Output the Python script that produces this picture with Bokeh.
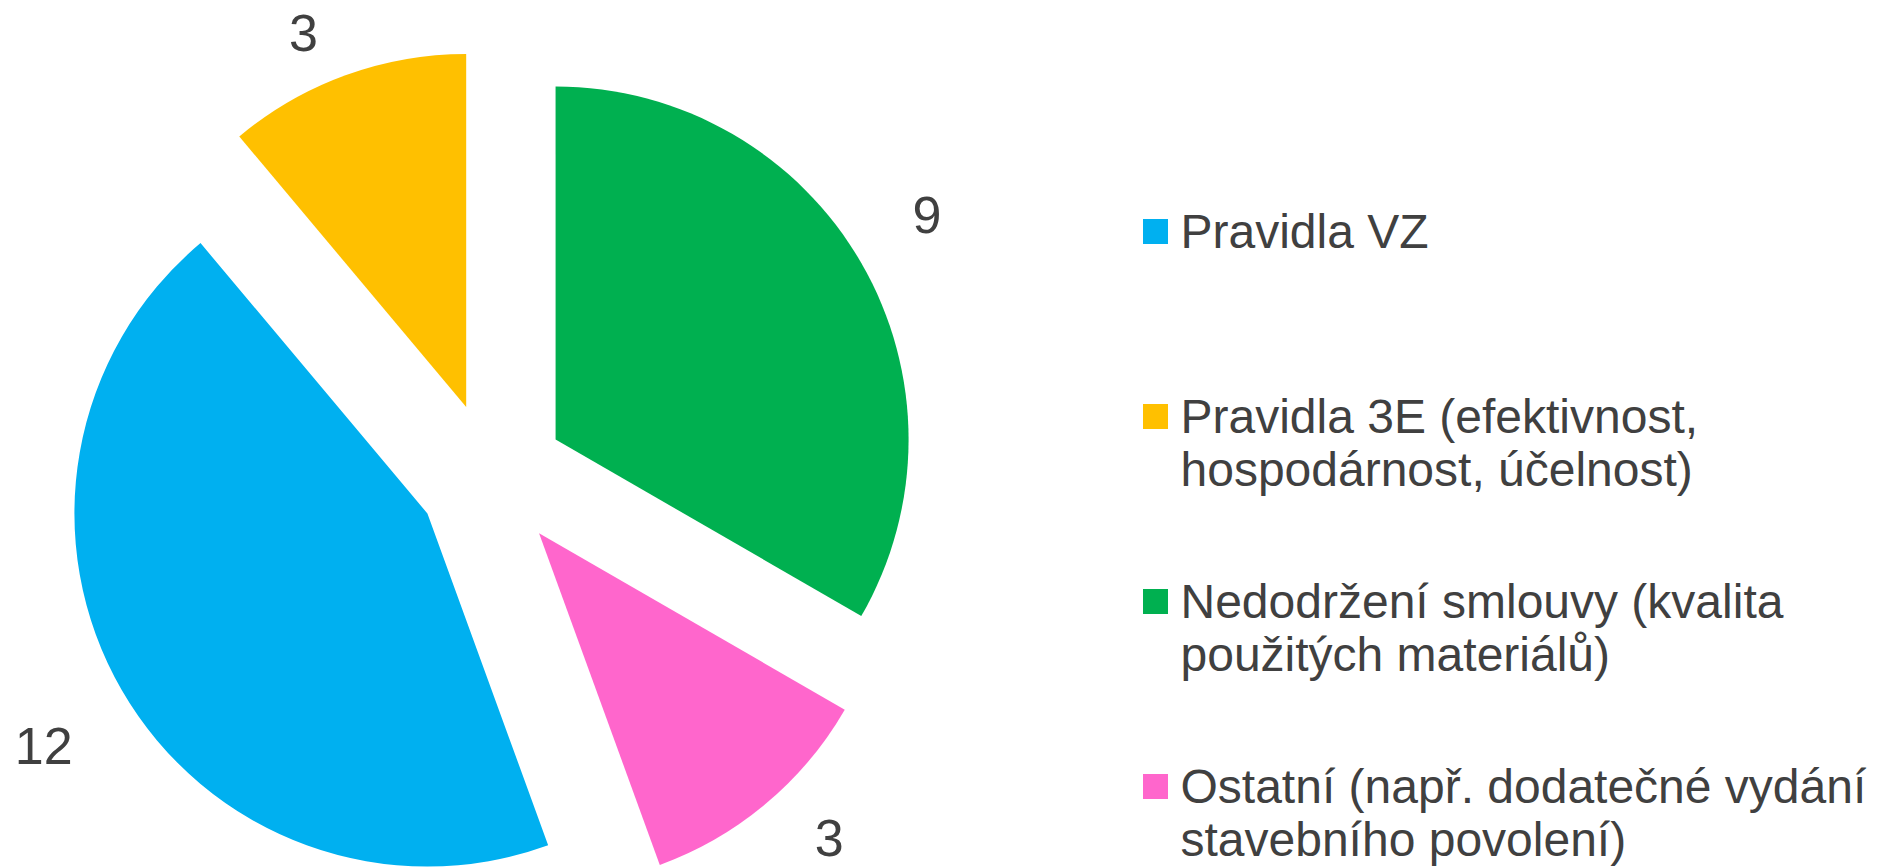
import numpy as np
from bokeh.plotting import figure
from bokeh.models import Range1d, ColumnDataSource
from bokeh.core.properties import value
from bokeh.embed import file_html
from bokeh.resources import INLINE

# ---- data ----
categories = [
    "Pravidla VZ",
    "Pravidla 3E (efektivnost, hospodárnost, účelnost)",
    "Nedodržení smlouvy (kvalita použitých materiálů)",
    "Ostatní (např. dodatečné vydání stavebního povolení)",
]
legend_lines = [
    ["Pravidla VZ"],
    ["Pravidla 3E (efektivnost,", "hospodárnost, účelnost)"],
    ["Nedodržení smlouvy (kvalita", "použitých materiálů)"],
    ["Ostatní (např. dodatečné vydání", "stavebního povolení)"],
]
values = [12, 3, 9, 3]
colors = ["#00B0F0", "#FFC000", "#00B050", "#FF66CC"]

# ---- layout / style ----
W, H = 1890, 867
FONT = "Liberation Sans"
TEXT_COLOR = "#404040"
cx, cy = 491, 391          # pie centre (plot units = pixels)
R = 353                    # pie radius
EXPLODE = 74               # explosion distance
FIRST_ANGLE = np.deg2rad(-70)  # start of first slice, drawn clockwise
LABEL_GAP = 78
LABEL_CHAR = 16.7
LABEL_VERT = -26
LABEL_ROT = np.deg2rad(2)
LABEL_DX = 6
LABEL_DY = 7
LABEL_SIZE = 52
LEG_SIZE = 48
LEG_X = 1155
LEG_TEXT_X = 1180
LEG_TOP = H - 231
LEG_STEP = 185
LINE_H = 53

p = figure(width=W, height=H, output_backend="svg", toolbar_location=None,
           x_range=Range1d(0, W), y_range=Range1d(0, H), min_border=0)
p.axis.visible = False
p.grid.visible = False
p.outline_line_color = None
p.background_fill_color = "white"
p.border_fill_color = "white"

vals = np.array(values, dtype=float)
total = vals.sum()
spans = vals / total * 2 * np.pi
starts = FIRST_ANGLE - np.concatenate([[0], np.cumsum(spans)[:-1]])
ends = starts - spans
mids = (starts + ends) / 2
ox = cx + EXPLODE * np.cos(mids)
oy = cy + EXPLODE * np.sin(mids)

src = ColumnDataSource(dict(x=ox, y=oy, start=ends, end=starts, color=colors))
p.wedge(x="x", y="y", radius=R, start_angle="start", end_angle="end",
        direction="anticlock", fill_color="color", line_color=None, source=src)

# data labels (outside end)
lab_txt = [str(v) for v in values]
lab_d = np.array([R + EXPLODE + LABEL_GAP + abs(np.cos(m)) * len(t) * LABEL_CHAR
                  + abs(np.sin(m)) * LABEL_VERT for m, t in zip(mids, lab_txt)])
la = mids + LABEL_ROT
lx = cx + lab_d * np.cos(la) + np.sign(np.cos(la)) * LABEL_DX
ly = cy + lab_d * np.sin(la) - np.sign(np.sin(la)) * LABEL_DY
p.text(x=lx, y=ly, text=lab_txt, text_align="center", text_baseline="middle",
       text_font=value(FONT), text_font_size=f"{LABEL_SIZE}px", text_color=TEXT_COLOR)

# legend
sq_y = [LEG_TOP - i * LEG_STEP for i in range(len(categories))]
p.scatter(x=[LEG_X] * len(categories), y=sq_y, marker="square", size=25,
          fill_color=colors, line_color=None)
tx, ty, tt = [], [], []
for i, lines in enumerate(legend_lines):
    for j, ln in enumerate(lines):
        tx.append(LEG_TEXT_X)
        ty.append(sq_y[i] - j * LINE_H)
        tt.append(ln)
p.text(x=tx, y=ty, text=tt, text_align="left", text_baseline="middle",
       text_font=value(FONT), text_font_size=f"{LEG_SIZE}px", text_color=TEXT_COLOR)

open("out.html", "w").write(file_html(p, INLINE))
